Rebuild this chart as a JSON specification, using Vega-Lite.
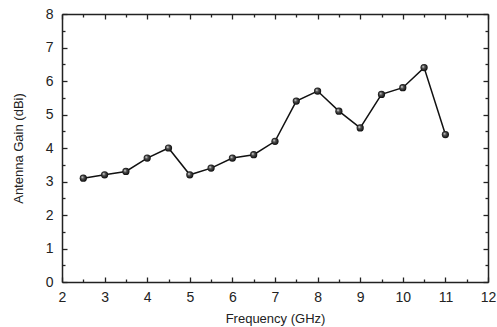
{
  "$schema": "https://vega.github.io/schema/vega-lite/v6.json",
  "width": 426,
  "height": 268,
  "autosize": "none",
  "padding": {"left": 62, "top": 14, "right": 9, "bottom": 45},
  "background": "white",
  "config": {
    "view": {"stroke": null},
    "axis": {
      "labelFont": "Liberation Sans",
      "titleFont": "Liberation Sans",
      "labelFontSize": 14,
      "titleFontSize": 13,
      "titleFontWeight": "normal",
      "labelColor": "#222",
      "titleColor": "#222",
      "domainColor": "#222",
      "tickColor": "#222",
      "domainWidth": 1.5,
      "tickWidth": 1.3,
      "grid": false
    }
  },
  "data": {
    "values": [
      {"freq": 2.5, "gain": 3.1},
      {"freq": 3.0, "gain": 3.2},
      {"freq": 3.5, "gain": 3.3},
      {"freq": 4.0, "gain": 3.7},
      {"freq": 4.5, "gain": 4.0},
      {"freq": 5.0, "gain": 3.2},
      {"freq": 5.5, "gain": 3.4},
      {"freq": 6.0, "gain": 3.7},
      {"freq": 6.5, "gain": 3.8},
      {"freq": 7.0, "gain": 4.2},
      {"freq": 7.5, "gain": 5.4},
      {"freq": 8.0, "gain": 5.7},
      {"freq": 8.5, "gain": 5.1},
      {"freq": 9.0, "gain": 4.6},
      {"freq": 9.5, "gain": 5.6},
      {"freq": 10.0, "gain": 5.8},
      {"freq": 10.5, "gain": 6.4},
      {"freq": 11.0, "gain": 4.4}
    ]
  },
  "layer": [
    {
      "mark": {"type": "line", "color": "#111", "strokeWidth": 1.5},
      "encoding": {
        "x": {"field": "freq", "type": "quantitative", "scale": {"domain": [2, 12], "nice": false, "zero": false},
          "axis": {"orient": "bottom", "title": "Frequency (GHz)", "values": [2,3,4,5,6,7,8,9,10,11,12], "tickSize": -5, "labelPadding": 13, "titlePadding": 8, "labelFlush": false}},
        "y": {"field": "gain", "type": "quantitative", "scale": {"domain": [0, 8], "nice": false},
          "axis": {"orient": "left", "title": "Antenna Gain (dBi)", "values": [0,1,2,3,4,5,6,7,8], "tickSize": -5, "labelPadding": 14, "titlePadding": 20, "labelFlush": false}}
      }
    },
    {
      "mark": {"type": "point", "filled": true, "size": 52, "opacity": 1,
        "fill": {"gradient": "radial", "x1": 0.35, "y1": 0.35, "r1": 0, "x2": 0.5, "y2": 0.5, "r2": 0.55,
          "stops": [{"offset": 0, "color": "#ffffff"}, {"offset": 0.35, "color": "#555555"}, {"offset": 1, "color": "#000000"}]}},
      "encoding": {
        "x": {"field": "freq", "type": "quantitative",
          "axis": {"orient": "top", "title": null, "labels": false, "values": [2,3,4,5,6,7,8,9,10,11,12], "tickSize": -5}},
        "y": {"field": "gain", "type": "quantitative",
          "axis": {"orient": "right", "title": null, "labels": false, "values": [0,1,2,3,4,5,6,7,8], "tickSize": -5}}
      }
    },
    {
      "mark": {"type": "point", "opacity": 0},
      "encoding": {
        "x": {"field": "freq", "type": "quantitative",
          "axis": {"orient": "bottom", "title": null, "labels": false, "domain": false, "values": [2.5,3.5,4.5,5.5,6.5,7.5,8.5,9.5,10.5,11.5], "tickSize": -3}},
        "y": {"field": "gain", "type": "quantitative",
          "axis": {"orient": "left", "title": null, "labels": false, "domain": false, "values": [0.5,1.5,2.5,3.5,4.5,5.5,6.5,7.5], "tickSize": -3}}
      }
    },
    {
      "mark": {"type": "point", "opacity": 0},
      "encoding": {
        "x": {"field": "freq", "type": "quantitative",
          "axis": {"orient": "top", "title": null, "labels": false, "domain": false, "values": [2.5,3.5,4.5,5.5,6.5,7.5,8.5,9.5,10.5,11.5], "tickSize": -3}},
        "y": {"field": "gain", "type": "quantitative",
          "axis": {"orient": "right", "title": null, "labels": false, "domain": false, "values": [0.5,1.5,2.5,3.5,4.5,5.5,6.5,7.5], "tickSize": -3}}
      }
    }
  ],
  "resolve": {"axis": {"x": "independent", "y": "independent"}}
}
